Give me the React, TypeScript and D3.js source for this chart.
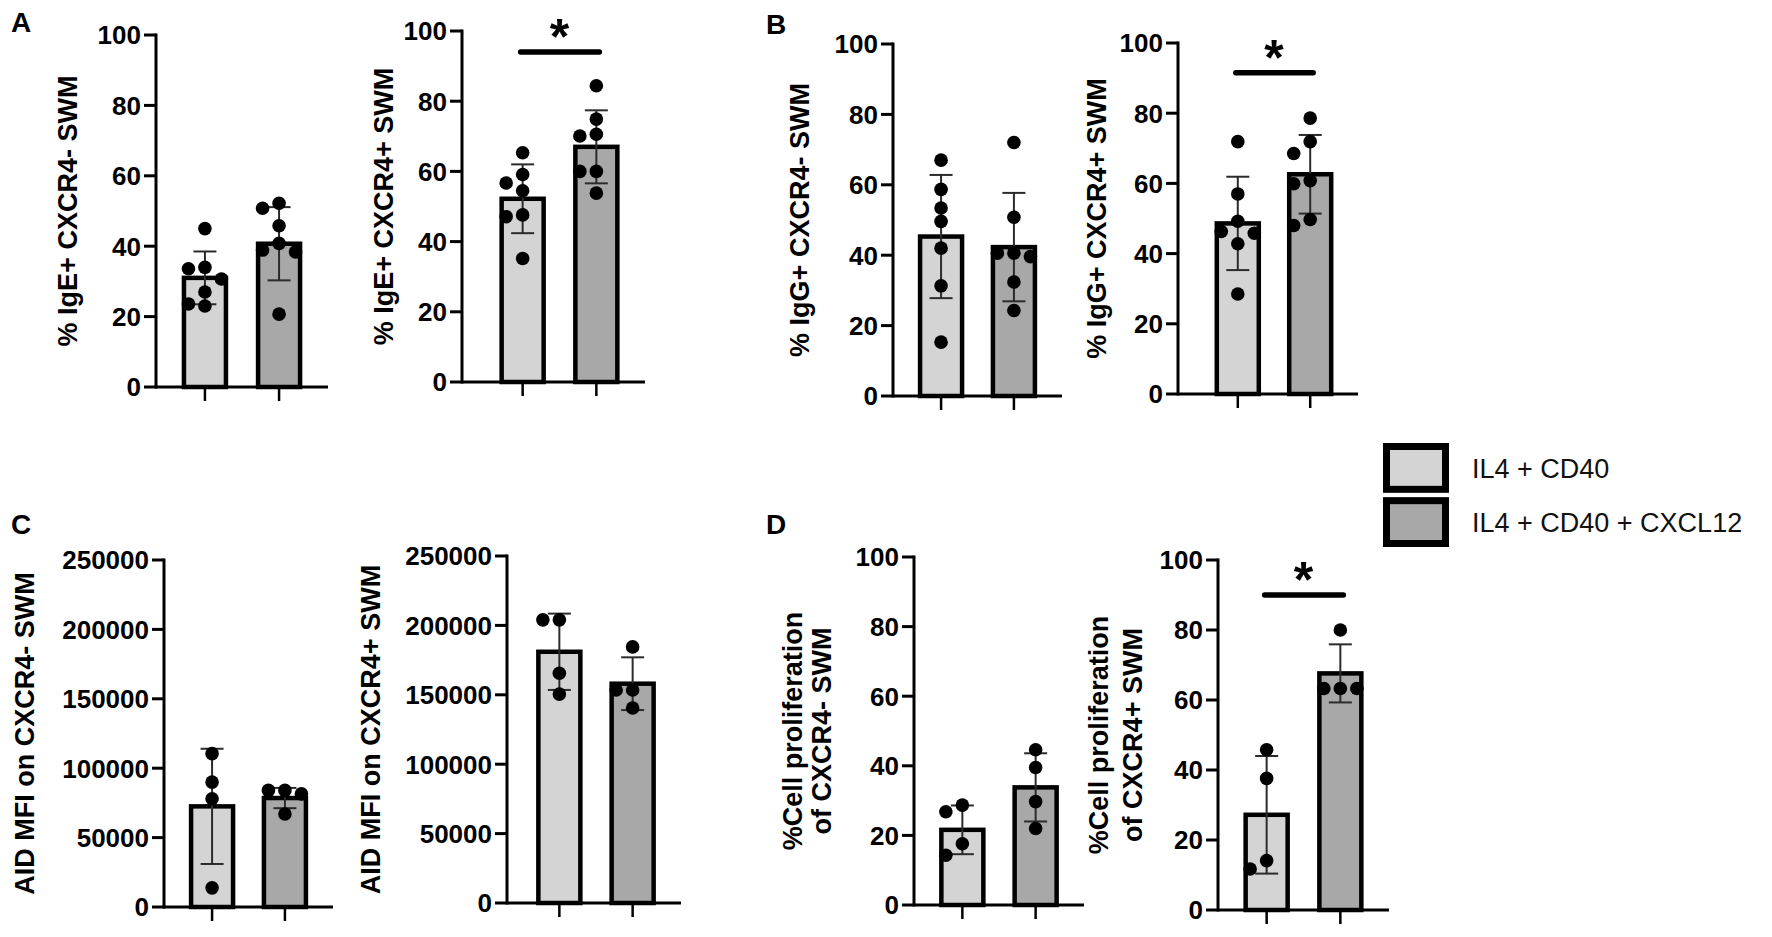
import React from 'react'
import * as d3 from 'd3'

const groups = ['IL4 + CD40', 'IL4 + CD40 + CXCL12']
const groupFills = ['#d4d4d4', '#a8a8a8']

const pctTicks = [0, 20, 40, 60, 80, 100]
const mfiTicks = [0, 50000, 100000, 150000, 200000, 250000]

// A: IgE+ SWM
const igeNegMeans = [31.0, 40.7]
const igeNegSds = [7.5, 10.4]
const igeNegPoints = [
  [45, 34, 33.6, 30.7, 27, 23.6, 23],
  [52.2, 50.8, 45.8, 40.8, 38.9, 38.4, 20.7],
]
const igePosMeans = [52.2, 67.0]
const igePosSds = [9.8, 10.4]
const igePosPoints = [
  [65.3, 59.1, 56.7, 54.5, 47.6, 47.1, 35.2],
  [84.4, 74.9, 70.6, 70.1, 60.0, 60.0, 53.8],
]

// B: IgG+ SWM
const iggNegMeans = [45.3, 42.3]
const iggNegSds = [17.5, 15.4]
const iggNegPoints = [
  [67, 58.7, 53.4, 49.6, 42, 31.3, 15.3],
  [72, 50.8, 40.6, 40.6, 39.6, 32.4, 24.3],
]
const iggPosMeans = [48.6, 62.6]
const iggPosSds = [13.3, 11.2]
const iggPosPoints = [
  [71.9, 57, 49.2, 46.3, 45.8, 42.8, 28.5],
  [78.6, 71.9, 68.5, 60.8, 59.9, 49.7, 48],
]

// C: AID MFI
const aidNegMeans = [72500, 78500]
const aidNegSds = [41500, 7300]
const aidNegPoints = [
  [110500, 90000, 78000, 13800],
  [84000, 84000, 81500, 67000],
]
const aidPosMeans = [181000, 158000]
const aidPosSds = [27500, 19000]
const aidPosPoints = [
  [204000, 204000, 165500, 150500],
  [184500, 153500, 153500, 140500],
]

// D: cell proliferation
const prolifNegMeans = [21.6, 33.8]
const prolifNegSds = [7.0, 9.8]
const prolifNegPoints = [
  [28.7, 26.8, 17.6, 14.3],
  [44.6, 39.5, 29.7, 22],
]
const prolifPosMeans = [27.2, 67.6]
const prolifPosSds = [16.8, 8.3]
const prolifPosPoints = [
  [45.8, 37.6, 14.1, 11.7],
  [80, 63.3, 63.3, 63.3],
]

const FONT = "'Liberation Sans', Arial, Helvetica, sans-serif"
const DOT_R = 6.8
const DOT_STEP = 16.5

interface ChartSpec {
  means: number[]
  sds: number[]
  points: number[][]
  ticks: number[]
  title: string[]
  axisX: number
  plotLeft: number
  right: number
  top: number
  bottom: number
  titleDx: number[]
  sig?: number
}

const charts: ChartSpec[] = [
  { means: igeNegMeans, sds: igeNegSds, points: igeNegPoints, ticks: pctTicks, title: ['% IgE+ CXCR4- SWM'],
    axisX: 156, plotLeft: 156, right: 328, top: 35, bottom: 387, titleDx: [-88] },
  { means: igePosMeans, sds: igePosSds, points: igePosPoints, ticks: pctTicks, title: ['% IgE+ CXCR4+ SWM'],
    axisX: 462, plotLeft: 474, right: 645, top: 31, bottom: 382, titleDx: [-78], sig: 94 },
  { means: iggNegMeans, sds: iggNegSds, points: iggNegPoints, ticks: pctTicks, title: ['% IgG+ CXCR4- SWM'],
    axisX: 893, plotLeft: 893, right: 1062, top: 44, bottom: 396, titleDx: [-93] },
  { means: iggPosMeans, sds: iggPosSds, points: iggPosPoints, ticks: pctTicks, title: ['% IgG+ CXCR4+ SWM'],
    axisX: 1178, plotLeft: 1190, right: 1358, top: 43, bottom: 394, titleDx: [-81], sig: 91.5 },
  { means: aidNegMeans, sds: aidNegSds, points: aidNegPoints, ticks: mfiTicks, title: ['AID MFI on CXCR4- SWM'],
    axisX: 164, plotLeft: 164, right: 333, top: 560, bottom: 907, titleDx: [-139] },
  { means: aidPosMeans, sds: aidPosSds, points: aidPosPoints, ticks: mfiTicks, title: ['AID MFI on CXCR4+ SWM'],
    axisX: 507, plotLeft: 511, right: 681, top: 556, bottom: 903, titleDx: [-136] },
  { means: prolifNegMeans, sds: prolifNegSds, points: prolifNegPoints, ticks: pctTicks,
    title: ['%Cell proliferation', 'of CXCR4- SWM'],
    axisX: 914, plotLeft: 914, right: 1084, top: 557, bottom: 905, titleDx: [-121, -92] },
  { means: prolifPosMeans, sds: prolifPosSds, points: prolifPosPoints, ticks: pctTicks,
    title: ['%Cell proliferation', 'of CXCR4+ SWM'],
    axisX: 1218, plotLeft: 1218, right: 1389, top: 560, bottom: 910, titleDx: [-119, -85], sig: 90 },
]

const panelLetters = [
  { label: 'A', x: 11, y: 32 },
  { label: 'B', x: 766, y: 34 },
  { label: 'C', x: 11, y: 534 },
  { label: 'D', x: 766, y: 534 },
]

// simple swarm: place each dot in the nearest free column
function swarmOffsets(values: number[], y: d3.ScaleLinear<number, number>) {
  const placed: { px: number; py: number }[] = []
  const out: number[] = new Array(values.length).fill(0)
  const order = values.map((_, i) => i).sort((a, b) => values[b] - values[a])
  const cands = [0, -DOT_STEP, DOT_STEP, -2 * DOT_STEP, 2 * DOT_STEP]
  for (const i of order) {
    const py = y(values[i])
    for (const o of cands) {
      if (placed.every(p => Math.hypot(p.px - o, p.py - py) >= 13)) {
        placed.push({ px: o, py })
        out[i] = o
        break
      }
    }
  }
  return out
}

const BarChart: React.FC<{ spec: ChartSpec }> = ({ spec }) => {
  const yMax = d3.max(spec.ticks) as number
  const y = d3.scaleLinear().domain([0, yMax]).range([spec.bottom, spec.top])
  const x = d3.scalePoint<string>().domain(groups).range([spec.plotLeft, spec.right]).padding(0.66)
  const barW = 42
  const midY = (spec.top + spec.bottom) / 2

  return (
    <g>
      {/* bars */}
      {groups.map((gName, i) => {
        const cx = x(gName) as number
        return (
          <rect key={'b' + i} x={cx - barW / 2} y={y(spec.means[i])} width={barW}
            height={y(0) - y(spec.means[i])} fill={groupFills[i]} stroke="#000" strokeWidth={4.5} />
        )
      })}
      {/* error bars */}
      {groups.map((gName, i) => {
        const cx = x(gName) as number
        const hi = y(spec.means[i] + spec.sds[i])
        const lo = y(Math.max(0, spec.means[i] - spec.sds[i]))
        return (
          <g key={'e' + i} stroke="#2b2b2b" strokeWidth={2}>
            <line x1={cx} x2={cx} y1={hi} y2={lo} />
            <line x1={cx - 11.5} x2={cx + 11.5} y1={hi} y2={hi} />
            <line x1={cx - 11.5} x2={cx + 11.5} y1={lo} y2={lo} />
          </g>
        )
      })}
      {/* points */}
      {groups.map((gName, i) => {
        const cx = x(gName) as number
        const offs = swarmOffsets(spec.points[i], y)
        return spec.points[i].map((v, j) => (
          <circle key={'p' + i + '-' + j} cx={cx + offs[j]} cy={y(v)} r={DOT_R} fill="#000" />
        ))
      })}
      {/* y axis */}
      <line x1={spec.axisX} x2={spec.axisX} y1={y(yMax) - 1.5} y2={y(0) + 1.5} stroke="#000" strokeWidth={3} />
      {spec.ticks.map(t => (
        <g key={'t' + t}>
          <line x1={spec.axisX - 12} x2={spec.axisX} y1={y(t)} y2={y(t)} stroke="#000" strokeWidth={3} />
          <text x={spec.axisX - 15} y={y(t)} dy="0.36em" textAnchor="end" fontFamily={FONT}
            fontWeight="bold" fontSize={26} fill="#000">{t}</text>
        </g>
      ))}
      {/* x axis */}
      <line x1={spec.axisX} x2={spec.right} y1={y(0)} y2={y(0)} stroke="#000" strokeWidth={3} />
      {groups.map((gName, i) => {
        const cx = x(gName) as number
        return <line key={'xt' + i} x1={cx} x2={cx} y1={y(0)} y2={y(0) + 14} stroke="#000" strokeWidth={2.5} />
      })}
      {/* title */}
      {spec.title.map((line, k) => (
        <text key={'ti' + k} transform={`translate(${spec.axisX + spec.titleDx[k]},${midY}) rotate(-90)`}
          textAnchor="middle" dominantBaseline="central" fontFamily={FONT} fontWeight="bold"
          fontSize={27} fill="#000">{line}</text>
      ))}
      {/* significance */}
      {spec.sig !== undefined ? (
        <g>
          <line x1={(x(groups[0]) as number) - 2} x2={(x(groups[1]) as number) + 3} y1={y(spec.sig)} y2={y(spec.sig)}
            stroke="#000" strokeWidth={5.5} strokeLinecap="round" />
          <text x={((x(groups[0]) as number) + (x(groups[1]) as number)) / 2} y={y(spec.sig) + 2}
            textAnchor="middle" fontFamily={FONT} fontWeight="bold" fontSize={50} fill="#000">*</text>
        </g>
      ) : null}
    </g>
  )
}

const Legend: React.FC = () => {
  const yBox = d3.scaleBand<string>().domain(groups).range([443, 547]).paddingInner(0.08)
  return (
    <g>
      {groups.map((gName, i) => {
        const y0 = yBox(gName) as number
        const h = yBox.bandwidth()
        return (
          <g key={gName}>
            <rect x={1386.5} y={y0 + 3.5} width={59} height={h - 7} fill={groupFills[i]} stroke="#000" strokeWidth={7} />
            <text x={1472} y={y0 + h / 2} dy="0.36em" fontFamily={FONT} fontSize={27} fill="#111">{gName}</text>
          </g>
        )
      })}
    </g>
  )
}

export default function App() {
  return (
    <div style={{ position: 'absolute', left: 0, top: 0, background: '#fff' }}>
      <svg width={1772} height={937} style={{ display: 'block', background: '#fff' }}>
        {panelLetters.map(p => (
          <text key={p.label} x={p.x} y={p.y} fontFamily={FONT} fontWeight="bold" fontSize={28} fill="#000">
            {p.label}
          </text>
        ))}
        {charts.map((c, i) => (
          <BarChart key={i} spec={c} />
        ))}
        <Legend />
      </svg>
    </div>
  )
}
